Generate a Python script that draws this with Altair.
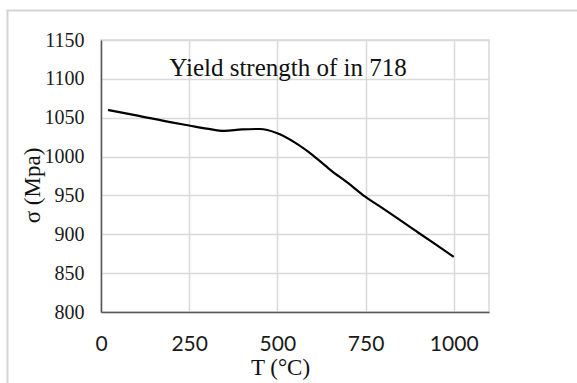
import altair as alt
import pandas as pd

# Yield strength of Inconel 718 versus temperature
temperature_c = [20, 100, 200, 250, 300, 350, 400, 450, 500, 550, 600, 650, 700, 750, 800, 900, 1000]
yield_mpa = [1060, 1053, 1044, 1040, 1036, 1033, 1035, 1035.5, 1030, 1018, 1002, 983, 966, 948, 933, 902, 871]

x_ticks = [0, 250, 500, 750, 1000]
y_ticks = [800, 850, 900, 950, 1000, 1050, 1100, 1150]

df = pd.DataFrame({"T": temperature_c, "sigma": yield_mpa})

W, H = 388, 272
GRID = "#d9d9d9"
AXIS = "#595959"

x_enc = alt.X(
    "T:Q",
    scale=alt.Scale(domain=[0, 1100], nice=False, zero=False),
    axis=alt.Axis(
        values=x_ticks,
        format="d",
        title="T (°C)",
        grid=True,
        gridColor=GRID,
        gridWidth=1.5,
        domainColor=AXIS,
        domainWidth=1.5,
        ticks=False,
        labelPadding=21,
        labelFont="Lato",
        labelFontSize=21,
        labelColor="#1a1a1a",
        labelFlush=False,
        titleFont="Liberation Serif",
        titleFontSize=23,
        titleFontWeight="normal",
        titleColor="#111111",
        titlePadding=2,
        titleAnchor="start",
        titleAlign="center",
        titleX=179,
    ),
)

y_enc = alt.Y(
    "sigma:Q",
    scale=alt.Scale(domain=[800, 1150], nice=False, zero=False),
    axis=alt.Axis(
        values=y_ticks,
        format="d",
        title="σ (Mpa)",
        grid=True,
        gridColor=GRID,
        gridWidth=1.5,
        domainColor=AXIS,
        domainWidth=1.5,
        ticks=False,
        labelPadding=17,
        labelFont="Liberation Serif",
        labelFontSize=20,
        labelColor="#1a1a1a",
        labelFlush=False,
        titleFont="Liberation Serif",
        titleFontSize=23,
        titleFontWeight="normal",
        titleColor="#111111",
        titleAngle=270,
        titleAlign="center",
        titleBaseline="alphabetic",
        titleX=-62,
        titleY=145,
    ),
)

line = alt.Chart(df).mark_line(
    color="#000000", strokeWidth=2.2, interpolate="monotone"
).encode(x=x_enc, y=y_enc)

# chart heading drawn inside the plot area
heading = alt.Chart(pd.DataFrame({"t": ["Yield strength of in 718"]})).mark_text(
    font="Liberation Serif", fontSize=25, color="#111111", align="center", baseline="alphabetic"
).encode(text="t:N", x=alt.value(187), y=alt.value(36))

# outer chart-area border (left and top edges)
frame_left = alt.Chart(pd.DataFrame({"k": [0]})).mark_rule(
    color="#d4d4d4", strokeWidth=2
).encode(x=alt.value(-93.5), y=alt.value(-29.5), y2=alt.value(350))
frame_top = alt.Chart(pd.DataFrame({"k": [0]})).mark_rule(
    color="#d4d4d4", strokeWidth=2
).encode(x=alt.value(-94.5), x2=alt.value(480), y=alt.value(-29.5))

chart = (
    alt.layer(frame_left, frame_top, line, heading)
    .properties(
        width=W,
        height=H,
        autosize=alt.AutoSizeParams(type="none"),
        padding={"left": 101, "top": 40, "right": 88, "bottom": 71},
        background="white",
    )
    .configure_view(stroke=GRID, strokeWidth=1.5)
)

chart.save("out.html", embed_options={"renderer": "svg", "actions": False})
